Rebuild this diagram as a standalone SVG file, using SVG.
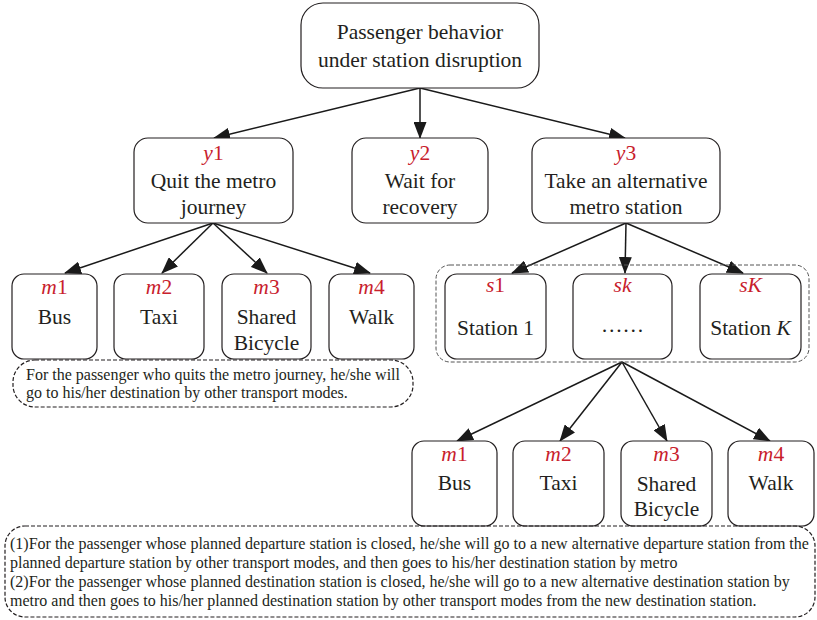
<svg xmlns="http://www.w3.org/2000/svg" width="817" height="620" viewBox="0 0 817 620">
<defs>
<marker id="ah" markerWidth="17" markerHeight="13" refX="16" refY="6.5" orient="auto" markerUnits="userSpaceOnUse">
<path d="M0,0 L17,6.5 L0,13 Z" fill="#1a1a1a"/>
</marker>
<style>
.box{fill:#fff;stroke:#231f20;stroke-width:1.2}
.dash{fill:none;stroke:#231f20;stroke-width:1.2;stroke-dasharray:4 2}
.gdash{fill:none;stroke:#555;stroke-width:1;stroke-dasharray:4 2}
.t{font-family:"Liberation Serif","Times New Roman",serif;font-size:21.5px;fill:#231f20;text-anchor:middle}
.lab{font-family:"Liberation Serif","Times New Roman",serif;font-size:21.5px;fill:#c8202c;text-anchor:middle}
.n{font-family:"Liberation Serif","Times New Roman",serif;font-size:16px;fill:#231f20}
.i{font-style:italic}
.c{fill:none;stroke:#1a1a1a;stroke-width:1.5;marker-end:url(#ah)}
</style>
</defs>
<g id="connectors">
<line class="c" x1="420" y1="88" x2="214" y2="138"/>
<line class="c" x1="420" y1="88" x2="420" y2="138"/>
<line class="c" x1="420" y1="88" x2="625" y2="138"/>
<line class="c" x1="213" y1="223" x2="65" y2="273"/>
<line class="c" x1="213" y1="223" x2="162" y2="273"/>
<line class="c" x1="213" y1="223" x2="267" y2="273"/>
<line class="c" x1="213" y1="223" x2="370" y2="273"/>
<line class="c" x1="626" y1="223" x2="512" y2="273"/>
<line class="c" x1="626" y1="223" x2="625" y2="273"/>
<line class="c" x1="626" y1="223" x2="743" y2="273"/>
<line class="c" x1="622" y1="362" x2="457" y2="441"/>
<line class="c" x1="622" y1="362" x2="560" y2="441"/>
<line class="c" x1="622" y1="362" x2="667" y2="441"/>
<line class="c" x1="622" y1="362" x2="770" y2="441"/>
</g>
<g id="root">
<rect class="box" x="301" y="3" width="238" height="85" rx="22"/>
<text class="t" x="420" y="39">Passenger behavior</text>
<text class="t" x="420" y="67">under station disruption</text>
</g>
<g id="y1">
<rect class="box" x="134" y="138" width="159" height="85" rx="14"/>
<text class="lab" x="213.5" y="160"><tspan class="i">y</tspan>1</text>
<text class="t" x="213.5" y="188">Quit the metro</text>
<text class="t" x="213.5" y="214">journey</text>
</g>
<g id="y2">
<rect class="box" x="352" y="138" width="136" height="85" rx="14"/>
<text class="lab" x="420" y="160"><tspan class="i">y</tspan>2</text>
<text class="t" x="420" y="188">Wait for</text>
<text class="t" x="420" y="214">recovery</text>
</g>
<g id="y3">
<rect class="box" x="532" y="138" width="188" height="85" rx="14"/>
<text class="lab" x="626" y="160"><tspan class="i">y</tspan>3</text>
<text class="t" x="626" y="188">Take an alternative</text>
<text class="t" x="626" y="214">metro station</text>
</g>
<g id="m1a">
<rect class="box" x="12" y="274" width="85" height="85" rx="12"/>
<text class="lab" x="54.5" y="294"><tspan class="i">m</tspan>1</text>
<text class="t" x="54.5" y="324">Bus</text>
</g>
<g id="m2a">
<rect class="box" x="114" y="274" width="90" height="85" rx="12"/>
<text class="lab" x="159" y="294"><tspan class="i">m</tspan>2</text>
<text class="t" x="159" y="324">Taxi</text>
</g>
<g id="m3a">
<rect class="box" x="222" y="274" width="89" height="85" rx="12"/>
<text class="lab" x="266.5" y="294"><tspan class="i">m</tspan>3</text>
<text class="t" x="266.5" y="324">Shared</text>
<text class="t" x="266.5" y="350">Bicycle</text>
</g>
<g id="m4a">
<rect class="box" x="329" y="274" width="85" height="85" rx="12"/>
<text class="lab" x="371.5" y="294"><tspan class="i">m</tspan>4</text>
<text class="t" x="371.5" y="324">Walk</text>
</g>
<g id="note1">
<rect class="dash" x="13" y="360" width="400" height="47" rx="22"/>
<text class="n" x="26" y="380">For the passenger who quits the metro journey, he/she will</text>
<text class="n" x="26" y="398">go to his/her destination by other transport modes.</text>
</g>
<g id="stations">
<rect class="gdash" x="436" y="265" width="373" height="97" rx="14"/>
</g>
<g id="s1">
<rect class="box" x="445" y="274" width="101" height="85" rx="12"/>
<text class="lab" x="495.5" y="292"><tspan class="i">s</tspan>1</text>
<text class="t" x="495.5" y="335">Station 1</text>
</g>
<g id="sk">
<rect class="box" x="573" y="274" width="99" height="85" rx="12"/>
<text class="lab" x="622.5" y="292"><tspan class="i">sk</tspan></text>
<text class="t" x="622.5" y="332">……</text>
</g>
<g id="sK">
<rect class="box" x="700" y="274" width="101" height="85" rx="12"/>
<text class="lab" x="750.5" y="292"><tspan class="i">sK</tspan></text>
<text class="t" x="750.5" y="335">Station <tspan class="i">K</tspan></text>
</g>
<g id="m1b">
<rect class="box" x="412" y="441" width="85" height="85" rx="12"/>
<text class="lab" x="454.5" y="461"><tspan class="i">m</tspan>1</text>
<text class="t" x="454.5" y="490">Bus</text>
</g>
<g id="m2b">
<rect class="box" x="513" y="441" width="91" height="85" rx="12"/>
<text class="lab" x="558.5" y="461"><tspan class="i">m</tspan>2</text>
<text class="t" x="558.5" y="490">Taxi</text>
</g>
<g id="m3b">
<rect class="box" x="621" y="441" width="91" height="85" rx="12"/>
<text class="lab" x="666.5" y="461"><tspan class="i">m</tspan>3</text>
<text class="t" x="666.5" y="491">Shared</text>
<text class="t" x="666.5" y="516">Bicycle</text>
</g>
<g id="m4b">
<rect class="box" x="728" y="441" width="86" height="85" rx="12"/>
<text class="lab" x="771" y="461"><tspan class="i">m</tspan>4</text>
<text class="t" x="771" y="490">Walk</text>
</g>
<g id="note2">
<rect class="dash" x="5" y="526" width="810" height="91" rx="20"/>
<text class="n" x="10" y="549">(1)For the passenger whose planned departure station is closed, he/she will go to a new alternative departure station from the</text>
<text class="n" x="10" y="568">planned departure station by other transport modes, and then goes to his/her destination station by metro</text>
<text class="n" x="10" y="587">(2)For the passenger whose planned destination station is closed, he/she will go to a new alternative destination station by</text>
<text class="n" x="10" y="606">metro and then goes to his/her planned destination station by other transport modes from the new destination station.</text>
</g>
</svg>
